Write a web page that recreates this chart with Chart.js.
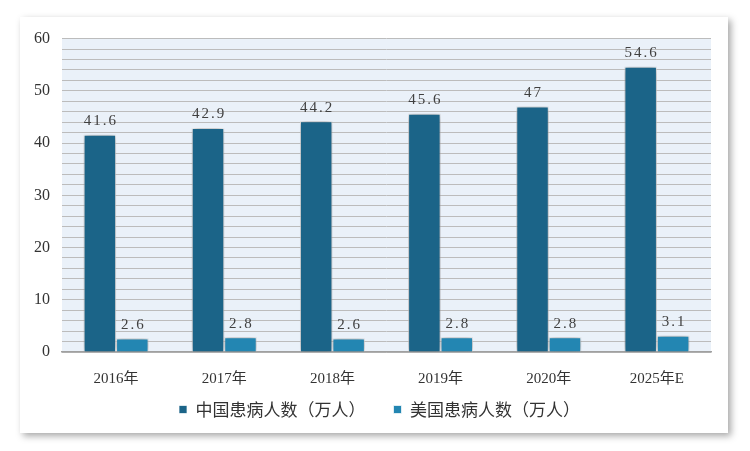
<!DOCTYPE html>
<html>
<head>
<meta charset="utf-8">
<script src="https://cdn.jsdelivr.net/npm/chart.js@4/dist/chart.umd.min.js"></script>
<style>
  body { margin: 0; background: #fff; }
  #card { position: absolute; left: 20px; top: 17px; width: 708px; height: 416px; background: #fff;
          box-shadow: 3px 3px 7px rgba(0,0,0,0.35); }
</style>
</head>
<body>
<div id="card"><canvas id="myChart" width="708" height="416"></canvas></div>
<script>
var years = ['2016年', '2017年', '2018年', '2019年', '2020年', '2025年E'];
var chinaPatients = [41.6, 42.9, 44.2, 45.6, 47, 54.6];
var usPatients = [2.6, 2.8, 2.6, 2.8, 2.8, 3.1];
var yTicks = [0, 10, 20, 30, 40, 50, 60];

var serif = '"Liberation Serif", "Times New Roman", "Noto Sans CJK SC", serif';

// light blue plot background
const plotBg = {
    id: 'plotBg',
    beforeDraw(chart) {
        const a = chart.chartArea, c = chart.ctx;
        c.save();
        c.fillStyle = '#eaf1f9';
        c.fillRect(a.left, a.top, a.right - a.left, a.bottom - a.top);
        c.restore();
    }
};

// soft shadow round the bars
const barShadow = {
    id: 'barShadow',
    beforeDatasetsDraw(chart) {
        const c = chart.ctx;
        c.save();
        c.shadowColor = 'rgba(0,0,0,0.45)';
        c.shadowBlur = 7;
    },
    afterDatasetsDraw(chart) {
        chart.ctx.restore();
    }
};

// value labels above bars
const valueLabels = {
    id: 'valueLabels',
    afterDatasetsDraw(chart) {
        const c = chart.ctx;
        c.save();
        c.font = '15px ' + serif;
        c.fillStyle = '#404040';
        c.textAlign = 'center';
        c.textBaseline = 'bottom';
        c.letterSpacing = '2px';
        chart.data.datasets.forEach(function (ds, i) {
            chart.getDatasetMeta(i).data.forEach(function (bar, j) {
                c.fillText(String(ds.data[j]), bar.x + 1, bar.y - 6);
            });
        });
        c.restore();
    }
};

// legend: wide gap between items but sitting close under the axis
const legendPos = {
    id: 'legendPos',
    beforeUpdate(chart) {
        const lg = chart.legend;
        if (lg && !lg.patched) {
            const fit = lg.fit;
            lg.fit = function () { fit.call(this); this.height = 41; };
            lg.draw = function () {
                if (!this.options.display) return;
                this.top -= 15; this.left += 14; this.right += 14;
                this._draw();
                this.top += 15; this.left -= 14; this.right -= 14;
            };
            lg.patched = true;
        }
    }
};

const ctx = document.getElementById('myChart').getContext('2d');
const myChart = new Chart(ctx, {
    type: 'bar',
    data: {
        labels: years,
        datasets: [{
            label: '中国患病人数（万人）',
            data: chinaPatients,
            backgroundColor: '#1b6488',
            borderColor: 'rgba(255,255,255,0.7)',
            borderWidth: 1
        }, {
            label: '美国患病人数（万人）',
            data: usPatients,
            backgroundColor: '#2386b2',
            borderColor: 'rgba(255,255,255,0.7)',
            borderWidth: 1
        }]
    },
    options: {
        responsive: false,
        animation: false,
        categoryPercentage: 0.6,
        barPercentage: 1,
        layout: { padding: { left: 0, right: 17, top: 20, bottom: 4 } },
        plugins: {
            tooltip: { enabled: false },
            legend: {
                position: 'bottom',
                labels: {
                    boxWidth: 8,
                    boxHeight: 8,
                    padding: 28,
                    color: '#333',
                    font: { size: 17, family: '"Noto Sans CJK SC", sans-serif' }
                }
            }
        },
        scales: {
            x: {
                grid: { display: false },
                border: { color: '#a0a0a0', width: 1.5 },
                ticks: { color: '#333', padding: 10, font: { size: 15, family: serif } },
                afterFit: function (scale) { scale.height = 36; }
            },
            y: {
                min: 0,
                max: 60,
                ticks: {
                    stepSize: 2,
                    autoSkip: false,
                    padding: 12,
                    color: '#333',
                    font: { size: 16, family: serif },
                    callback: function (v) { return yTicks.indexOf(v) >= 0 ? v : ''; }
                },
                grid: { color: '#bcbcbc', lineWidth: 1, drawTicks: false },
                border: { display: false },
                afterFit: function (scale) { scale.width = 42; }
            }
        }
    },
    plugins: [plotBg, barShadow, valueLabels, legendPos]
});
</script>
</body>
</html>
